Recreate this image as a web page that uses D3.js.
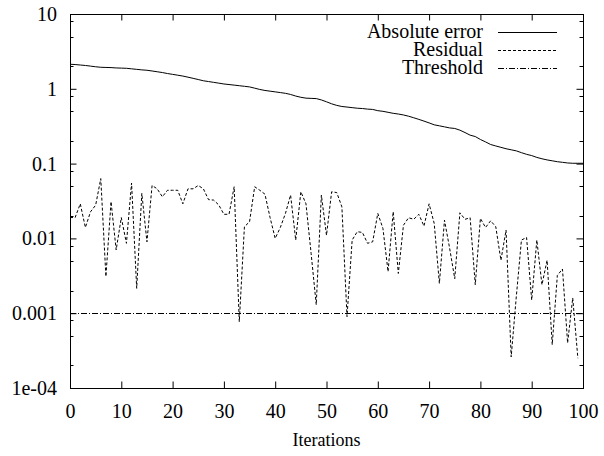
<!DOCTYPE html>
<html>
<head>
<meta charset="utf-8">
<title>Convergence</title>
<script src="https://d3js.org/d3.v7.min.js"></script>
<style>
  body { margin: 0; background: #fff; }
</style>
</head>
<body>
<div id="chart"></div>
<script>
// absolute error, one value per iteration 0..100
const absError = [2.13, 2.11, 2.08, 2.05, 2.01, 1.97, 1.94, 1.93, 1.92, 1.90,
  1.89, 1.88, 1.85, 1.82, 1.79, 1.77, 1.73, 1.69, 1.65, 1.60,
  1.56, 1.52, 1.48, 1.43, 1.38, 1.33, 1.28, 1.25, 1.22, 1.19,
  1.16, 1.14, 1.12, 1.10, 1.08, 1.06, 1.02, 0.98, 0.95, 0.93,
  0.91, 0.89, 0.87, 0.84, 0.80, 0.77, 0.75, 0.745, 0.74, 0.71,
  0.67, 0.63, 0.60, 0.58, 0.57, 0.56, 0.55, 0.545, 0.535, 0.53,
  0.51, 0.50, 0.485, 0.47, 0.46, 0.447, 0.43, 0.41, 0.39, 0.37,
  0.35, 0.33, 0.32, 0.31, 0.30, 0.295, 0.28, 0.26, 0.24, 0.23,
  0.21, 0.195, 0.18, 0.172, 0.165, 0.158, 0.153, 0.148, 0.14, 0.133,
  0.128, 0.121, 0.116, 0.112, 0.109, 0.106, 0.104, 0.102, 0.101, 0.101, 0.101];

// residual, iterations 0..99
const residual = [0.019, 0.019, 0.029, 0.014, 0.0227, 0.0278, 0.063, 0.0031, 0.031, 0.007,
  0.019, 0.0086, 0.055, 0.00215, 0.04, 0.009, 0.051, 0.046, 0.036, 0.044,
  0.044, 0.044, 0.029, 0.046, 0.046, 0.051, 0.046, 0.033, 0.0325, 0.028,
  0.021, 0.021, 0.049, 0.00077, 0.0143, 0.0167, 0.049, 0.044, 0.039, 0.019,
  0.01, 0.014, 0.0216, 0.038, 0.0095, 0.042, 0.029, 0.0063, 0.0013, 0.038,
  0.011, 0.042, 0.041, 0.0264, 0.0009, 0.0095, 0.0123, 0.012, 0.0086, 0.009,
  0.0216, 0.0136, 0.0036, 0.0227, 0.0034, 0.015, 0.0189, 0.018, 0.021, 0.0146,
  0.029, 0.0158, 0.0025, 0.0175, 0.0074, 0.0029, 0.022, 0.018, 0.0189, 0.0024,
  0.0185, 0.014, 0.0172, 0.0143, 0.0051, 0.0129, 0.00026, 0.00167, 0.0095, 0.0103,
  0.0015, 0.0095, 0.0024, 0.0051, 0.00038, 0.0032, 0.0039, 0.0004, 0.0016, 0.00025];

const threshold = 0.001;

const xTicks = [0, 10, 20, 30, 40, 50, 60, 70, 80, 90, 100];
const yTicks = [1e-4, 1e-3, 1e-2, 1e-1, 1, 10];
const yTickLabels = ["1e-04", "0.001", "0.01", "0.1", "1", "10"];
const yMinorMult = [2, 5, 8];

const seriesNames = ["Absolute error", "Residual", "Threshold"];
const dashes = [null, "3,2", "6,2,1,2"];

const serif = "Liberation Serif, DejaVu Serif";

let margin = {top: 14, right: 21, bottom: 68, left: 70};
let W = 604, H = 456;
let w = W - margin.left - margin.right;
let h = H - margin.top - margin.bottom;

let svg = d3.select("#chart").append("svg")
    .attr("width", W).attr("height", H)
    .attr("font-family", serif)
  .append("g")
    .attr("transform", "translate(" + margin.left + "," + margin.top + ")");

let x = d3.scaleLinear().domain([0, 100]).range([0, w]);
let y = d3.scaleLog().domain([1e-4, 10]).range([h, 0]);

// axes with inward ticks (gnuplot style)
let gBottom = svg.append("g").attr("transform", "translate(0," + h + ")")
  .call(d3.axisBottom(x).tickValues(xTicks).tickSize(-6.5).tickPadding(16).tickFormat(d3.format("d")));
let gTop = svg.append("g")
  .call(d3.axisTop(x).tickValues(xTicks).tickSize(-6.5).tickFormat(""));
let gLeft = svg.append("g")
  .call(d3.axisLeft(y).tickValues(yTicks).tickSize(-6.5).tickPadding(13)
    .tickFormat((d, i) => yTickLabels[i]));
let gRight = svg.append("g").attr("transform", "translate(" + w + ",0)")
  .call(d3.axisRight(y).tickValues(yTicks).tickSize(-6.5).tickFormat(""));

[gBottom, gTop, gLeft, gRight].forEach(g => {
  g.attr("font-family", serif).attr("font-size", 20);
  g.select(".domain").remove();
  g.selectAll("text").attr("fill", "#000");
});

// minor log ticks
let minor = [];
for (let e = -4; e < 1; e++) yMinorMult.forEach(m => minor.push(m * Math.pow(10, e)));
svg.append("g").selectAll("line").data(minor).enter().append("line")
  .attr("x1", 0).attr("x2", 3.5)
  .attr("y1", d => Math.round(y(d)) + 0.5).attr("y2", d => Math.round(y(d)) + 0.5)
  .attr("stroke", "#000");
svg.append("g").selectAll("line").data(minor).enter().append("line")
  .attr("x1", w).attr("x2", w - 3.5)
  .attr("y1", d => Math.round(y(d)) + 0.5).attr("y2", d => Math.round(y(d)) + 0.5)
  .attr("stroke", "#000");

// frame
svg.append("rect")
  .attr("x", 0.5).attr("y", 0.5).attr("width", w).attr("height", h)
  .attr("fill", "none").attr("stroke", "#000");

let line = d3.line().x((d, i) => x(i)).y(d => y(d));

svg.append("path").datum(absError).attr("d", line)
  .attr("fill", "none").attr("stroke", "#000").attr("stroke-width", 1);
svg.append("path").datum(residual).attr("d", line)
  .attr("fill", "none").attr("stroke", "#000").attr("stroke-width", 1)
  .attr("stroke-dasharray", dashes[1]);
svg.append("line")
  .attr("x1", x(0)).attr("x2", x(100))
  .attr("y1", Math.round(y(threshold)) + 0.5).attr("y2", Math.round(y(threshold)) + 0.5)
  .attr("stroke", "#000").attr("stroke-dasharray", dashes[2]);

// legend
let legend = svg.append("g")
  .attr("transform", "translate(" + (483 - margin.left) + "," + (32 - margin.top) + ")")
  .attr("font-size", 20);
seriesNames.forEach((name, i) => {
  legend.append("text")
    .attr("x", 0).attr("y", i * 18)
    .attr("dy", "0.32em")
    .attr("text-anchor", "end")
    .text(name);
  legend.append("line")
    .attr("x1", 15).attr("x2", 74)
    .attr("y1", i * 18 + 0.5).attr("y2", i * 18 + 0.5)
    .attr("stroke", "#000")
    .attr("stroke-dasharray", dashes[i]);
});

// axis title
svg.append("text")
  .attr("x", w / 2).attr("y", h + 58)
  .attr("text-anchor", "middle")
  .attr("font-size", 18)
  .text("Iterations");
</script>
</body>
</html>
